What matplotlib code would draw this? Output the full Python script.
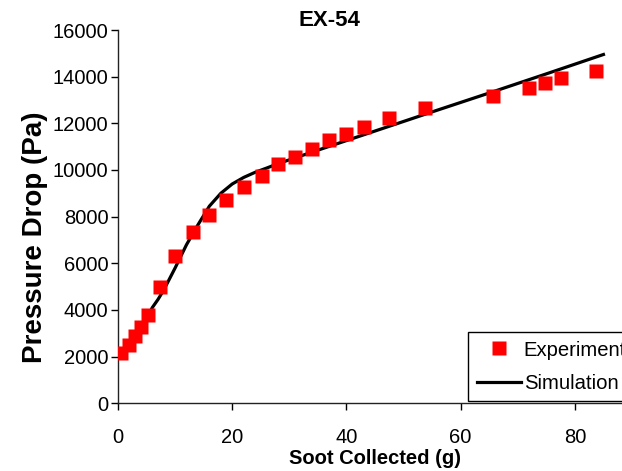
import matplotlib
matplotlib.use("Agg")
import matplotlib.pyplot as plt

plt.rcParams['font.family'] = ['Liberation Sans', 'DejaVu Sans']

# measured pressure drop vs soot load
exp_x = [0.6, 1.9, 3.0, 4.1, 5.3, 7.4, 10.0, 13.2, 15.9, 18.9, 22.1, 25.2, 28.1,
         31.0, 34.0, 37.0, 39.9, 43.0, 47.5, 53.8, 65.6, 71.9, 74.8, 77.5, 83.7]
exp_y = [2150, 2500, 2880, 3250, 3800, 4980, 6330, 7360, 8080, 8725, 9250, 9755, 10270,
         10560, 10915, 11270, 11560, 11845, 12215, 12645, 13160, 13520, 13735, 13950, 14230]

# model curve
sim_x = [0, 2, 4, 6, 7, 8, 10, 12, 14, 16, 18, 20, 22, 24, 26, 28,
         35, 45, 55, 65, 75, 85]
sim_y = [2050, 2500, 3150, 4100, 4450, 4850, 5800, 6800, 7650, 8450, 9000, 9400, 9680, 9900, 10080, 10270,
         10850, 11670, 12490, 13300, 14120, 14950]

fig = plt.figure(figsize=(6.22, 4.71), dpi=100)
ax = fig.add_axes([118 / 622, 67.7 / 471, 514 / 622, 373.3 / 471])

line, = ax.plot(sim_x, sim_y, color='black', lw=2.3, zorder=2, label='Simulation')
pts, = ax.plot(exp_x, exp_y, ls='none', marker='s', ms=10, mfc='#ff0000', mec='none',
               zorder=3, label='Experiment')

ax.set_xlim(0, 90)
ax.set_ylim(0, 16000)
ax.set_xticks([0, 20, 40, 60, 80])
ax.set_yticks(range(0, 16001, 2000))
ax.tick_params(axis='both', labelsize=14.5, direction='out', length=5, width=1, colors='black')
ax.tick_params(axis='x', pad=13)
ax.tick_params(axis='y', pad=2)

for side in ('top', 'right'):
    ax.spines[side].set_visible(False)
for side in ('left', 'bottom'):
    ax.spines[side].set_linewidth(1)
    ax.spines[side].set_color('#222222')

ax.set_xlabel('Soot Collected (g)', fontsize=14.5, fontweight='bold', labelpad=1.5)
fig.text(35 / 622, 1 - 237 / 471, 'Pressure Drop (Pa)', rotation=90, fontsize=20,
         fontweight='bold', ha='center', va='center')
fig.text(329 / 622, 1 - 20 / 471, 'EX-54', fontsize=16, fontweight='bold',
         ha='center', va='center')

# legend box runs past the right edge of the figure
leg = ax.legend([pts, line], ['Experiment', 'Simulation'], loc='upper left',
                bbox_to_anchor=(468 / 622, 1 - 332 / 471), bbox_transform=fig.transFigure,
                fontsize=14.6, frameon=True, fancybox=False, framealpha=1, edgecolor='black',
                borderaxespad=0, borderpad=0.42, handlelength=2.2, handletextpad=0.12,
                labelspacing=0.7)
leg.get_frame().set_linewidth(1)

fig.savefig('out.png', dpi=100)
